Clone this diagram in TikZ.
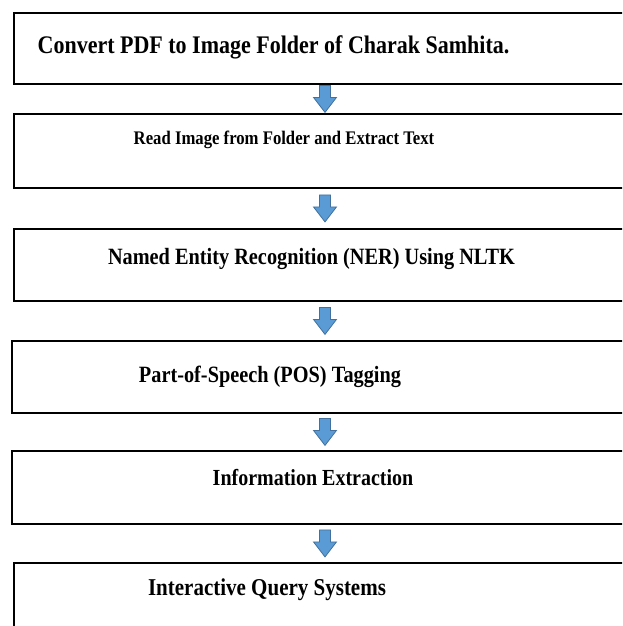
\documentclass[tikz,border=0pt]{standalone}
\usepackage{fontspec}
\usepackage{graphicx}
\setmainfont{Liberation Serif}
\usetikzlibrary{calc}
\definecolor{arrowfill}{HTML}{5B9BD5}
\definecolor{arrowline}{HTML}{41719C}
\newcommand{\flowarrow}[2]{%
  \filldraw[blockarrow] let \p1=(#1.south -| ax), \p2=(#2.north -| ax), \n1={(\y1+\y2)/2} in
    (\x1-5.5pt,\n1+13.5) -- (\x1+5.5pt,\n1+13.5) -- (\x1+5.5pt,\n1+1.5) -- (\x1+11.5pt,\n1+1.5)
    -- (\x1,\n1-13.5) -- (\x1-11.5pt,\n1+1.5) -- (\x1-5.5pt,\n1+1.5) -- cycle;}
\newcommand{\tall}[1]{\scalebox{1}[1.15]{#1}}
\begin{document}
\begin{tikzpicture}[x=1pt,y=1pt,
  stepbox/.style={draw=black, line width=1.8pt, rectangle, inner sep=0pt, anchor=north west, minimum width=700pt},
  steptext/.style={anchor=base, inner sep=0pt},
  blockarrow/.style={fill=arrowfill, draw=arrowline, line width=0.8pt, line join=miter}]
\useasboundingbox (0,0) rectangle (622,-626);
\clip (0,0) rectangle (622,-626);
\coordinate (ax) at (325,0);
\node[stepbox, minimum height=71pt] (b1) at (13,-12) {};
\node[stepbox, minimum height=74pt] (b2) at (13,-113) {};
\node[stepbox, minimum height=72pt] (b3) at (13,-228) {};
\node[stepbox, minimum height=72pt] (b4) at (11,-340) {};
\node[stepbox, minimum height=73pt] (b5) at (11,-450) {};
\node[stepbox, minimum height=90pt] (b6) at (13,-562) {};
\node[steptext, font=\bfseries\fontsize{22}{26}\selectfont] (t1) at (273.5,-54) {\tall{Convert PDF to Image Folder of Charak Samhita.}};
\node[steptext, font=\bfseries\fontsize{16.7}{20}\selectfont] (t2) at (284,-144) {\tall{Read Image from Folder and Extract Text}};
\node[steptext, font=\bfseries\fontsize{20.3}{24}\selectfont] (t3) at (311.5,-264) {\tall{Named Entity Recognition (NER) Using NLTK}};
\node[steptext, font=\bfseries\fontsize{20.3}{24}\selectfont] (t4) at (270,-382) {\tall{Part-of-Speech (POS) Tagging}};
\node[steptext, font=\bfseries\fontsize{20}{24}\selectfont] (t5) at (313,-485) {\tall{Information Extraction}};
\node[steptext, font=\bfseries\fontsize{21}{25}\selectfont] (t6) at (267,-595) {\tall{Interactive Query Systems}};
\flowarrow{b1}{b2}
\flowarrow{b2}{b3}
\flowarrow{b3}{b4}
\flowarrow{b4}{b5}
\flowarrow{b5}{b6}
\end{tikzpicture}
\end{document}
